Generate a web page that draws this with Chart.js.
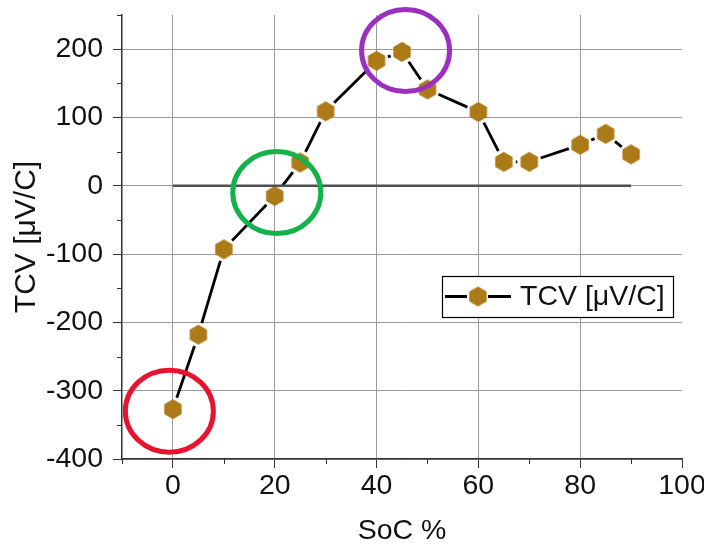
<!DOCTYPE html>
<html>
<head>
<meta charset="utf-8">
<script src="https://cdn.jsdelivr.net/npm/chart.js@4"></script>
<style>
  html, body { margin: 0; padding: 0; background: #fff; }
  #wrap { width: 704px; height: 544px; }
</style>
</head>
<body>
<div id="wrap"><canvas id="myChart" width="704" height="544"></canvas></div>
<script>
// data
const soc = [0, 5, 10, 20, 25, 30, 40, 45, 50, 60, 65, 70, 80, 85, 90];
const tcv = [-327, -218, -93, -15, 34, 109, 183, 196, 141, 108, 35, 35, 60, 76, 46];
const zeroLineX = [0, 90];
const zeroLineY = [0, 0];
const xTicks = [0, 20, 40, 60, 80, 100];
const yTicks = [-400, -300, -200, -100, 0, 100, 200];
// circled points (centre in data units)
const marksX = [-0.7, 20.4, 45.7];
const marksY = [-330, -10, 198];
const marksColor = ["#e8132f", "#13b24a", "#9b2fc0"];

const markerColor = "#ac7a17";
const FONT = "'Liberation Sans', Arial, sans-serif";

// hexagon marker (pointy top)
const makeHex = function (r) {
  const c = document.createElement("canvas");
  const s = Math.ceil(r * 2 + 2);
  c.width = s;
  c.height = s;
  const g = c.getContext("2d");
  g.fillStyle = markerColor;
  g.beginPath();
  for (let i = 0; i < 6; i++) {
    const a = -Math.PI / 2 + (i * Math.PI) / 3;
    const px = s / 2 + r * Math.cos(a);
    const py = s / 2 + r * Math.sin(a);
    if (i === 0) g.moveTo(px, py);
    else g.lineTo(px, py);
  }
  g.closePath();
  g.fill();
  return c;
};
const hex = makeHex(10);

const points = soc.map((x, i) => ({ x: x, y: tcv[i] }));
const zeroPts = zeroLineX.map((x, i) => ({ x: x, y: zeroLineY[i] }));

// line between markers with a small gap at each end (Origin style)
const gapLine = {
  id: "gapLine",
  beforeDatasetsDraw(chart) {
    const meta = chart.getDatasetMeta(1);
    const ctx = chart.ctx;
    const gap = 12;
    ctx.save();
    ctx.strokeStyle = "#000";
    ctx.lineWidth = 2.8;
    for (let i = 0; i < meta.data.length - 1; i++) {
      const a = meta.data[i];
      const b = meta.data[i + 1];
      const dx = b.x - a.x;
      const dy = b.y - a.y;
      const len = Math.hypot(dx, dy);
      if (len <= gap * 2) continue;
      const ux = dx / len;
      const uy = dy / len;
      ctx.beginPath();
      ctx.moveTo(a.x + ux * gap, a.y + uy * gap);
      ctx.lineTo(b.x - ux * gap, b.y - uy * gap);
      ctx.stroke();
    }
    ctx.restore();
  },
  afterDraw(chart) {
    const ctx = chart.ctx;
    const xs = chart.scales.x;
    const ys = chart.scales.y;
    ctx.save();
    // minor ticks
    ctx.strokeStyle = "#333";
    ctx.lineWidth = 1;
    for (let v = -350; v <= 250; v += 100) {
      const py = Math.round(ys.getPixelForValue(v)) + 0.5;
      ctx.beginPath();
      ctx.moveTo(xs.left - 5, py);
      ctx.lineTo(xs.left, py);
      ctx.stroke();
    }
    for (let v = -10; v <= 90; v += 20) {
      const px = Math.round(xs.getPixelForValue(v)) + 0.5;
      ctx.beginPath();
      ctx.moveTo(px, ys.bottom);
      ctx.lineTo(px, ys.bottom + 5);
      ctx.stroke();
    }
    // highlight circles
    ctx.lineWidth = 5;
    marksX.forEach((mx, i) => {
      ctx.strokeStyle = marksColor[i];
      ctx.beginPath();
      ctx.ellipse(xs.getPixelForValue(mx), ys.getPixelForValue(marksY[i]), 44, 41, 0, 0, Math.PI * 2);
      ctx.stroke();
    });
    // legend box
    const lx = 442, ly = 276, lw = 231, lh = 41;
    ctx.lineWidth = 1.2;
    ctx.strokeStyle = "#000";
    ctx.fillStyle = "#fff";
    ctx.fillRect(lx, ly, lw, lh);
    ctx.strokeRect(lx + 0.5, ly + 0.5, lw, lh);
    ctx.lineWidth = 2.8;
    ctx.beginPath();
    ctx.moveTo(445, ly + lh / 2);
    ctx.lineTo(467, ly + lh / 2);
    ctx.moveTo(488, ly + lh / 2);
    ctx.lineTo(511, ly + lh / 2);
    ctx.stroke();
    ctx.drawImage(hex, 478 - hex.width / 2, ly + lh / 2 - hex.height / 2);
    ctx.fillStyle = "#111";
    ctx.font = "28.5px " + FONT;
    ctx.textBaseline = "middle";
    ctx.fillText("TCV [μV/C]", 520, ly + lh / 2 + 1);
    ctx.restore();
  },
};

const ctx = document.getElementById("myChart");
const myChart = new Chart(ctx, {
  type: "scatter",
  data: {
    datasets: [
      {
        label: "zero",
        data: zeroPts,
        showLine: true,
        borderColor: "#505050",
        borderWidth: 2.5,
        pointRadius: 0,
      },
      {
        label: "TCV [μV/C]",
        data: points,
        showLine: false,
        pointStyle: hex,
        pointRadius: 10,
        pointHoverRadius: 10,
      },
    ],
  },
  options: {
    responsive: false,
    animation: false,
    events: [],
    layout: { padding: { left: 0, right: 22, top: 15, bottom: 0 } },
    plugins: {
      legend: { display: false },
      tooltip: { enabled: false },
    },
    scales: {
      x: {
        type: "linear",
        min: -10,
        max: 100,
        afterBuildTicks: (s) => {
          s.ticks = xTicks.map((v) => ({ value: v }));
        },
        afterFit: (s) => {
          s.height = 85;
          s.paddingLeft = 0;
          s.paddingRight = 0;
        },
        grid: {
          color: (c) => (c.tick && c.tick.value === 100 ? "rgba(0,0,0,0)" : "#9a9a9a"),
          tickColor: "#333",
          tickLength: 9,
          lineWidth: 1,
        },
        border: { color: "#333", width: 1.5 },
        ticks: {
          color: "#111",
          font: { family: FONT, size: 28.5 },
          padding: 1,
          maxRotation: 0,
        },
        title: {
          display: true,
          text: "SoC %",
          color: "#111",
          font: { family: FONT, size: 28.5 },
          padding: { top: 0, bottom: -4 },
        },
      },
      y: {
        type: "linear",
        min: -400,
        max: 250,
        afterBuildTicks: (s) => {
          s.ticks = yTicks.map((v) => ({ value: v }));
        },
        afterFit: (s) => {
          s.width = 122;
          s.paddingTop = 0;
          s.paddingBottom = 0;
        },
        grid: {
          color: "#9a9a9a",
          tickColor: "#333",
          tickLength: 9,
          lineWidth: 1,
        },
        border: { color: "#333", width: 1.5 },
        ticks: {
          color: "#111",
          font: { family: FONT, size: 28.5 },
          padding: 10,
        },
        title: {
          display: true,
          text: "TCV [μV/C]",
          color: "#111",
          font: { family: FONT, size: 30 },
          padding: { top: 9, bottom: 0 },
        },
      },
    },
  },
  plugins: [gapLine],
});
</script>
</body>
</html>
